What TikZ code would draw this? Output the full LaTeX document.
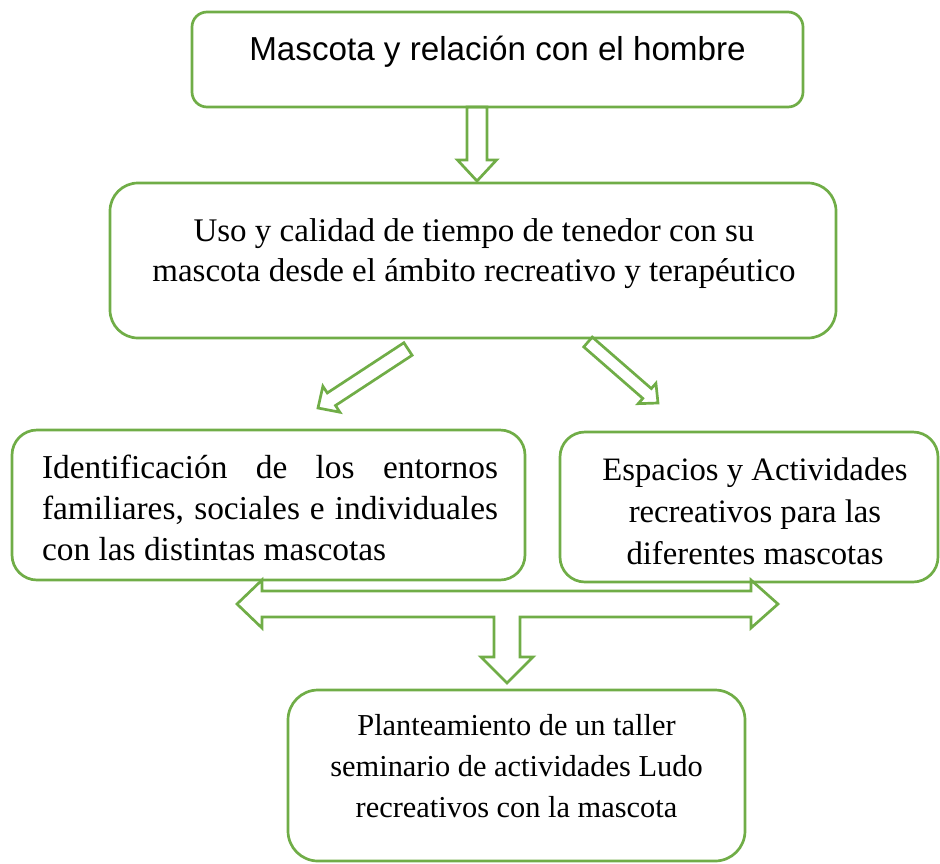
\documentclass[tikz,border=0pt]{standalone}
\usepackage{fontspec}
\setmainfont{Liberation Serif}
\newfontfamily\arialf{Liberation Sans}
\usetikzlibrary{calc}
\definecolor{gr}{HTML}{70AD47}
\newcommand\blockarrow[5]{% tail, tip, shaft half width, head half width, head length
  \coordinate (ba) at ($(#2)!#5!(#1)$);
  \draw[blockarr] ($(#1)!#3!90:(#2)$) -- ($(ba)!#3!90:(#2)$) -- ($(ba)!#4!90:(#2)$) -- (#2)
     -- ($(ba)!#4!-90:(#2)$) -- ($(ba)!#3!-90:(#2)$) -- ($(#1)!#3!-90:(#2)$) -- cycle;
}
\begin{document}
\begin{tikzpicture}[x=1pt,y=-1pt,
  box/.style={draw=gr, line width=2.7pt, inner sep=0pt},
  txt/.style={inner sep=0pt, outer sep=0pt, anchor=base, text=black},
  blockarr/.style={draw=gr, line width=2.7pt, line join=miter}]
\useasboundingbox (0,0) rectangle (940,863);

% boxes
\node[box, rounded corners=15pt, minimum width=611pt, minimum height=95pt] (b1) at (497.5,59.5) {};
\node[txt, font=\arialf\fontsize{33.2}{39}\selectfont] (t1) at (497.5,60) {Mascota y relación con el hombre};

\node[box, rounded corners=28pt, minimum width=726pt, minimum height=155pt] (b2) at (473,260.5) {};
\node[txt, align=center, font=\fontsize{33}{40}\selectfont] (t2) at (474,281)
  {Uso y calidad de tiempo de tenedor con su\\mascota desde el ámbito recreativo y terapéutico};

\node[box, rounded corners=25pt, minimum width=513pt, minimum height=150pt] (b3) at (268.5,505) {};
\node[txt, anchor=base west, text width=456pt, align=justify, font=\fontsize{33.4}{41}\selectfont] (t3) at (42,478)
  {Identificación de los entornos\linebreak familiares, sociales e individuales\linebreak con las distintas mascotas};

\node[box, rounded corners=25pt, minimum width=378pt, minimum height=150pt] (b4) at (749,507) {};
\node[txt, align=center, font=\fontsize{32.7}{42}\selectfont] (t4) at (755,564)
  {Espacios y Actividades\\recreativos para las\\diferentes mascotas};

\node[box, rounded corners=30pt, minimum width=457pt, minimum height=171pt] (b5) at (516.5,775.5) {};
\node[txt, align=center, font=\fontsize{30.4}{41}\selectfont] (t5) at (516.5,817)
  {Planteamiento de un taller\\seminario de actividades Ludo\\recreativos con la mascota};

% arrows
\coordinate (a1s) at (477,107);
\coordinate (a1e) at (477,181);
\blockarrow{a1s}{a1e}{10pt}{19.5pt}{21pt}

\coordinate (a2s) at (408,349);
\coordinate (a2e) at (318,408);
\blockarrow{a2s}{a2e}{7.5pt}{15.5pt}{16pt}

\coordinate (a3s) at (588,342);
\coordinate (a3e) at (658,403);
\blockarrow{a3s}{a3e}{6.5pt}{13.5pt}{14.5pt}

% T-shaped three-way arrow
\coordinate (tl) at (237,604);
\coordinate (tr) at (778,604);
\coordinate (tb) at (507,683);
\draw[blockarr] (tl) -- (262,580) -- (262,591) -- (751,591) -- (751,580) -- (tr)
  -- (751,628) -- (751,617) -- (520,617) -- (520,657) -- (533,657) -- (tb)
  -- (481,657) -- (494,657) -- (494,617) -- (262,617) -- (262,628) -- cycle;
\end{tikzpicture}
\end{document}
